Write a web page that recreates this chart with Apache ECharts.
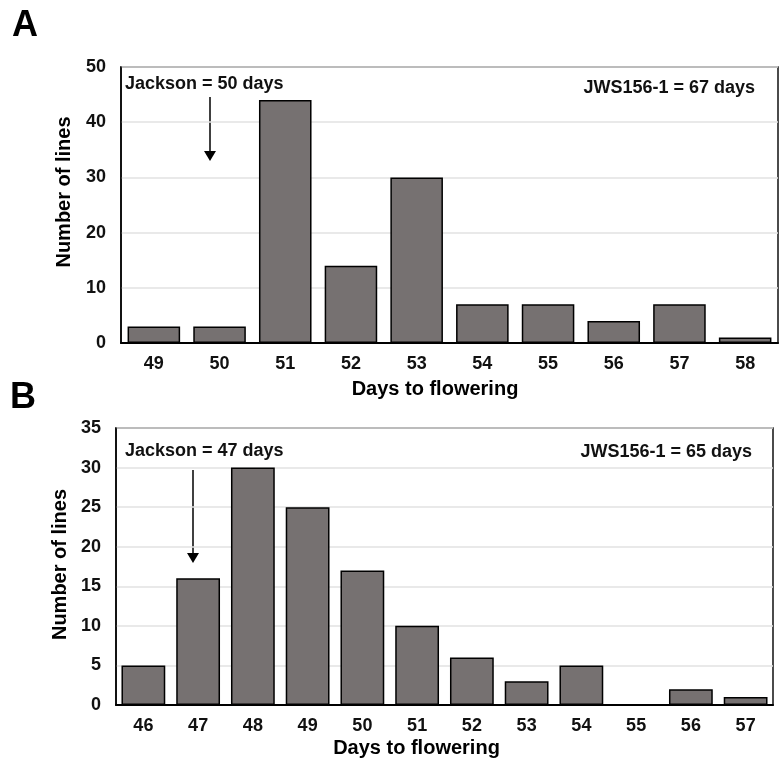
<!DOCTYPE html>
<html>
<head>
<meta charset="utf-8">
<script src="https://cdn.jsdelivr.net/npm/echarts@6/dist/echarts.min.js"></script>
<style>
  html, body { margin: 0; padding: 0; background: #fff; }
  #main { width: 779px; height: 766px; }
</style>
</head>
<body>
<div id="main"></div>
<script>
// panel A
const daysA = ['49', '50', '51', '52', '53', '54', '55', '56', '57', '58'];
const linesA = [3, 3, 44, 14, 30, 7, 7, 4, 7, 1];
const maxA = 50, stepA = 10;
// panel B
const daysB = ['46', '47', '48', '49', '50', '51', '52', '53', '54', '55', '56', '57'];
const linesB = [5, 16, 30, 25, 17, 10, 6, 3, 5, 0, 2, 1];
const maxB = 35, stepB = 5;

const notesA = ['Jackson = 50 days', 'JWS156-1 = 67 days'];
const notesB = ['Jackson = 47 days', 'JWS156-1 = 65 days'];

const FONT = '"Liberation Sans", Arial, sans-serif';
const barColor = '#767171';

function xAxisFor(data, grid, gap, shift) {
    return {
        type: 'category',
        gridIndex: grid,
        data: data,
        name: 'Days to flowering',
        nameLocation: 'middle',
        nameGap: gap,
        nameTextStyle: { fontFamily: FONT, fontWeight: 'bold', fontSize: 20, color: '#000', padding: [0, shift, 0, 0] },
        axisLine: { lineStyle: { color: '#000', width: 2 } },
        axisTick: { show: false },
        axisLabel: { fontFamily: FONT, fontWeight: 'bold', fontSize: 18, color: '#111', margin: 12 }
    };
}

function yAxisFor(max, step, grid, gap, shift) {
    return {
        type: 'value',
        gridIndex: grid,
        min: 0,
        max: max,
        interval: step,
        name: 'Number of lines',
        nameLocation: 'middle',
        nameGap: gap,
        nameTextStyle: { fontFamily: FONT, fontWeight: 'bold', fontSize: 20, color: '#000', padding: [0, 0, 0, shift] },
        axisLine: { show: true, lineStyle: { color: '#000', width: 1.5 } },
        axisTick: { show: false },
        axisLabel: { fontFamily: FONT, fontWeight: 'bold', fontSize: 18, color: '#111', margin: 15 },
        splitLine: { lineStyle: { color: '#e2e2e2', width: 1.5 } }
    };
}

function barsFor(values, idx) {
    return {
        type: 'bar',
        xAxisIndex: idx,
        yAxisIndex: idx,
        data: values,
        barCategoryGap: '20%',
        itemStyle: { color: barColor, borderColor: '#000', borderWidth: 1.5 }
    };
}

function label(text, x, y, size, align) {
    return {
        type: 'text',
        left: align === 'right' ? null : x,
        right: align === 'right' ? 779 - x : null,
        top: y,
        style: { text: text, fontFamily: FONT, fontWeight: 'bold', fontSize: size, fill: '#111' }
    };
}

function arrow(x, y1, y2) {
    return [{
        type: 'line',
        shape: { x1: x, y1: y1, x2: x, y2: y2 - 8 },
        style: { stroke: '#000', lineWidth: 1.5 }
    }, {
        type: 'polygon',
        shape: { points: [[x - 6, y2 - 10], [x + 6, y2 - 10], [x, y2]] },
        style: { fill: '#000' }
    }];
}

const myChart = echarts.init(document.getElementById('main'));
myChart.setOption({
    animation: false,
    backgroundColor: '#fff',
    grid: [
        { left: 121, top: 67, width: 657, height: 276, show: true, borderColor: '#111', borderWidth: 1.5 },
        { left: 116, top: 428, width: 657, height: 277, show: true, borderColor: '#111', borderWidth: 1.5 }
    ],
    xAxis: [xAxisFor(daysA, 0, 36, 29), xAxisFor(daysB, 1, 33, 56)],
    yAxis: [yAxisFor(maxA, stepA, 0, 47, 26), yAxisFor(maxB, stepB, 1, 44, 4)],
    series: [barsFor(linesA, 0), barsFor(linesB, 1)],
    graphic: [
        { type: 'text', left: 12, top: 8, style: { text: 'A', fontFamily: FONT, fontWeight: 'bold', fontSize: 36, fill: '#000' } },
        { type: 'text', left: 10, top: 380, style: { text: 'B', fontFamily: FONT, fontWeight: 'bold', fontSize: 36, fill: '#000' } },
        label(notesA[0], 125, 75, 18),
        label(notesA[1], 755, 79, 18, 'right'),
        label(notesB[0], 125, 442, 18),
        label(notesB[1], 752, 443, 18, 'right')
    ].concat(arrow(210, 97, 161), arrow(193, 470, 563))
});
</script>
</body>
</html>
